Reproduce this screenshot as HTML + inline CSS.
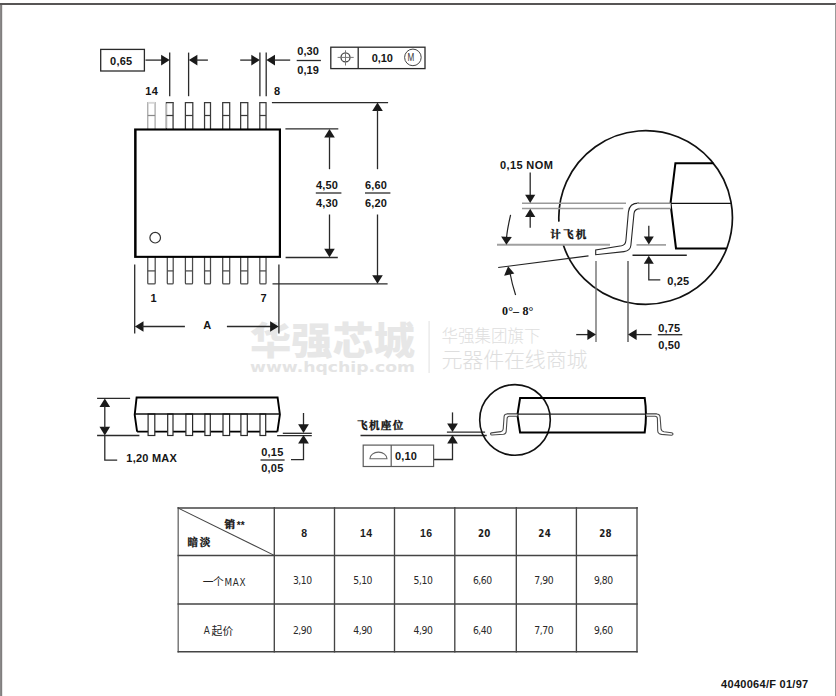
<!DOCTYPE html>
<html lang="zh">
<head>
<meta charset="utf-8">
<title>TSSOP package outline 4040064/F</title>
<style>
html,body{margin:0;padding:0;background:#fff;}
body{width:836px;height:696px;overflow:hidden;}
svg{display:block;}
text{font-family:"Liberation Sans","Noto Sans CJK SC",sans-serif;fill:#151515;}
.b{font-size:11px;font-weight:bold;}
.th{font-size:10.5px;font-weight:bold;fill:#1c1c1c;}
.th2{font-family:"DejaVu Sans Condensed","DejaVu Sans","Liberation Sans",sans-serif;font-size:9.7px;font-weight:bold;fill:#1c1c1c;}
.td{font-family:"DejaVu Sans Condensed","DejaVu Sans","Liberation Sans",sans-serif;font-size:10.3px;font-weight:normal;fill:#2a2a2a;}
.trow{font-size:10.8px;font-weight:normal;fill:#222;font-family:"Liberation Sans","Noto Sans CJK SC",sans-serif;}
.ast{font-size:10px;font-weight:bold;}
.tmax{font-family:"DejaVu Sans Condensed","DejaVu Sans","Liberation Sans",sans-serif;font-size:9.8px;font-weight:normal;fill:#2a2a2a;}
.r9{font-size:10.4px;font-weight:normal;fill:#333;}
.cjk{font-family:"Liberation Serif","Noto Serif CJK SC",serif;font-weight:bold;font-size:10.6px;fill:#111;stroke:#111;stroke-width:0.35px;}
.ser{font-family:"Liberation Serif",serif;font-weight:bold;font-size:12px;fill:#111;}
.wm1{font-family:"Liberation Sans","Noto Sans CJK SC",sans-serif;font-weight:900;font-size:37.8px;fill:#e7e7e7;}
.wm2{font-family:"DejaVu Sans","Liberation Sans",sans-serif;font-weight:bold;font-size:14.8px;fill:#e4e4e4;}
.wm3{font-family:"Liberation Sans","Noto Sans CJK SC",sans-serif;font-weight:300;font-size:16.5px;fill:#dedede;}
.wm4{font-family:"Liberation Sans","Noto Sans CJK SC",sans-serif;font-weight:300;font-size:21px;fill:#dedede;}
</style>
</head>
<body>
<svg width="836" height="696" viewBox="0 0 836 696">
<g fill="#e6e6e6">
<text x="250" y="353.6" class="wm1" textLength="165" lengthAdjust="spacingAndGlyphs">华强芯城</text>
<text x="250" y="372.4" class="wm2" textLength="165" lengthAdjust="spacingAndGlyphs">www.hqchip.com</text>
<rect x="428.4" y="321" width="1.4" height="52" fill="#e9e9e9"/>
<text x="441.5" y="341.5" class="wm3" textLength="99" lengthAdjust="spacing">华强集团旗下</text>
<text x="441.5" y="366.5" class="wm4" textLength="146" lengthAdjust="spacing">元器件在线商城</text>
</g>
<rect x="0" y="3" width="1.3" height="693" fill="#8a8888"/>
<rect x="1.3" y="3" width="0.85" height="693" fill="#5a5858"/>
<rect x="0" y="3" width="836" height="2" fill="#575555"/>
<rect x="835" y="4" width="1" height="692" fill="#9a9a9a"/>
<rect x="100.7" y="49.4" width="43.7" height="21.6" fill="#fff" stroke="#2a2a2a" stroke-width="1.3"/>
<text x="110.1" y="64.5" class="b" textLength="22" lengthAdjust="spacing">0,65</text>
<line x1="145.5" y1="60.1" x2="163" y2="60.1" stroke="#2a2a2a" stroke-width="1.3"/>
<polygon points="169.7,60.1 161.1,54.800000000000004 161.1,65.4" fill="#1a1a1a"/>
<line x1="169.7" y1="52.6" x2="169.7" y2="96.2" stroke="#2a2a2a" stroke-width="1.3"/>
<line x1="188.6" y1="52.6" x2="188.6" y2="96.2" stroke="#2a2a2a" stroke-width="1.3"/>
<polygon points="188.8,60.1 197.4,54.800000000000004 197.4,65.4" fill="#1a1a1a"/>
<line x1="196" y1="60.1" x2="207.9" y2="60.1" stroke="#2a2a2a" stroke-width="1.3"/>
<line x1="240.2" y1="60.1" x2="252" y2="60.1" stroke="#2a2a2a" stroke-width="1.3"/>
<polygon points="259.9,60.1 251.29999999999998,54.800000000000004 251.29999999999998,65.4" fill="#1a1a1a"/>
<line x1="259.9" y1="52.6" x2="259.9" y2="96.2" stroke="#2a2a2a" stroke-width="1.3"/>
<line x1="266.2" y1="52.6" x2="266.2" y2="96.2" stroke="#2a2a2a" stroke-width="1.3"/>
<polygon points="266.4,60.1 275.0,54.800000000000004 275.0,65.4" fill="#1a1a1a"/>
<line x1="274" y1="60.1" x2="290.2" y2="60.1" stroke="#2a2a2a" stroke-width="1.3"/>
<text x="297.2" y="55.1" class="b" textLength="21.6" lengthAdjust="spacing">0,30</text>
<line x1="296.7" y1="60.5" x2="320.9" y2="60.5" stroke="#2a2a2a" stroke-width="1.3"/>
<text x="297.2" y="73.9" class="b" textLength="21.6" lengthAdjust="spacing">0,19</text>
<rect x="330.8" y="47.2" width="94.2" height="21.4" fill="#fff" stroke="#2a2a2a" stroke-width="1.3"/>
<line x1="358.2" y1="47.2" x2="358.2" y2="68.6" stroke="#2a2a2a" stroke-width="1.3"/>
<circle cx="345.5" cy="57.4" r="4.5" fill="none" stroke="#444" stroke-width="1.3"/>
<line x1="337.6" y1="57.4" x2="353.7" y2="57.4" stroke="#777" stroke-width="1"/>
<line x1="345.5" y1="50.3" x2="345.5" y2="65.5" stroke="#777" stroke-width="1"/>
<text x="371.7" y="61.9" class="b" textLength="21.2" lengthAdjust="spacing">0,10</text>
<circle cx="412.9" cy="57.4" r="8.3" fill="none" stroke="#444" stroke-width="1"/>
<text class="r9" transform="translate(407.5 61.1) scale(0.78 1)">M</text>
<text x="145.3" y="94.9" class="b" textLength="12.6" lengthAdjust="spacing">14</text>
<text x="274" y="94.9" class="b">8</text>
<text x="150.6" y="301.9" class="b">1</text>
<text x="260.6" y="301.9" class="b">7</text>
<path d="M147.75 129 L147.75 102.7 L155.1 102.7 L155.1 129" fill="#fff" stroke="#a6a6a6" stroke-width="1.25"/>
<line x1="147.75" y1="102.7" x2="155.1" y2="102.7" stroke="#d8d8d8" stroke-width="1.6"/>
<line x1="147.75" y1="115.5" x2="155.1" y2="115.5" stroke="#8a8a8a" stroke-width="1.25"/>
<path d="M166.4 129 L166.4 102.7 L173.2 102.7 L173.2 129" fill="#fff" stroke="#3a3a3a" stroke-width="1.25"/>
<line x1="166.4" y1="103.4" x2="166.4" y2="128.4" stroke="#b4b4b4" stroke-width="1.6"/>
<line x1="173.2" y1="103.4" x2="173.2" y2="128.4" stroke="#777" stroke-width="1.4"/>
<line x1="166.4" y1="115.5" x2="173.2" y2="115.5" stroke="#3a3a3a" stroke-width="1.25"/>
<path d="M185.4 129 L185.4 102.7 L192.8 102.7 L192.8 129" fill="#fff" stroke="#3a3a3a" stroke-width="1.25"/>
<line x1="185.4" y1="115.5" x2="192.8" y2="115.5" stroke="#3a3a3a" stroke-width="1.25"/>
<path d="M204.55 129 L204.55 102.7 L210.5 102.7 L210.5 129" fill="#fff" stroke="#3a3a3a" stroke-width="1.25"/>
<line x1="204.55" y1="115.5" x2="210.5" y2="115.5" stroke="#3a3a3a" stroke-width="1.25"/>
<path d="M222.7 129 L222.7 102.7 L229.7 102.7 L229.7 129" fill="#fff" stroke="#3a3a3a" stroke-width="1.25"/>
<line x1="222.7" y1="115.5" x2="229.7" y2="115.5" stroke="#3a3a3a" stroke-width="1.25"/>
<path d="M240.65 129 L240.65 102.7 L247.8 102.7 L247.8 129" fill="#fff" stroke="#3a3a3a" stroke-width="1.25"/>
<line x1="240.65" y1="115.5" x2="247.8" y2="115.5" stroke="#3a3a3a" stroke-width="1.25"/>
<path d="M259.8 129 L259.8 102.7 L266.05 102.7 L266.05 129" fill="#fff" stroke="#3a3a3a" stroke-width="1.25"/>
<line x1="259.8" y1="115.5" x2="266.05" y2="115.5" stroke="#3a3a3a" stroke-width="1.25"/>
<path d="M147.75 257 L147.75 283 Q147.75 283.9 148.65 283.9 L154.29999999999998 283.9 Q155.2 283.9 155.2 283 L155.2 257" fill="#fff" stroke="#4a4a4a" stroke-width="1.25"/>
<line x1="147.75" y1="270.9" x2="155.2" y2="270.9" stroke="#4a4a4a" stroke-width="1.25"/>
<path d="M167.3 257 L167.3 283 Q167.3 283.9 168.20000000000002 283.9 L172.29999999999998 283.9 Q173.2 283.9 173.2 283 L173.2 257" fill="#fff" stroke="#4a4a4a" stroke-width="1.25"/>
<line x1="167.3" y1="270.9" x2="173.2" y2="270.9" stroke="#4a4a4a" stroke-width="1.25"/>
<path d="M185.4 257 L185.4 283 Q185.4 283.9 186.3 283.9 L191.65 283.9 Q192.55 283.9 192.55 283 L192.55 257" fill="#fff" stroke="#4a4a4a" stroke-width="1.25"/>
<line x1="185.4" y1="270.9" x2="192.55" y2="270.9" stroke="#4a4a4a" stroke-width="1.25"/>
<path d="M204.55 257 L204.55 283 Q204.55 283.9 205.45000000000002 283.9 L209.6 283.9 Q210.5 283.9 210.5 283 L210.5 257" fill="#fff" stroke="#4a4a4a" stroke-width="1.25"/>
<line x1="204.55" y1="270.9" x2="210.5" y2="270.9" stroke="#4a4a4a" stroke-width="1.25"/>
<path d="M222.7 257 L222.7 283 Q222.7 283.9 223.6 283.9 L228.79999999999998 283.9 Q229.7 283.9 229.7 283 L229.7 257" fill="#fff" stroke="#4a4a4a" stroke-width="1.25"/>
<line x1="222.7" y1="270.9" x2="229.7" y2="270.9" stroke="#4a4a4a" stroke-width="1.25"/>
<path d="M240.65 257 L240.65 283 Q240.65 283.9 241.55 283.9 L246.9 283.9 Q247.8 283.9 247.8 283 L247.8 257" fill="#fff" stroke="#4a4a4a" stroke-width="1.25"/>
<line x1="240.65" y1="270.9" x2="247.8" y2="270.9" stroke="#4a4a4a" stroke-width="1.25"/>
<path d="M259.8 257 L259.8 283 Q259.8 283.9 260.7 283.9 L265.15000000000003 283.9 Q266.05 283.9 266.05 283 L266.05 257" fill="#fff" stroke="#4a4a4a" stroke-width="1.25"/>
<line x1="259.8" y1="270.9" x2="266.05" y2="270.9" stroke="#4a4a4a" stroke-width="1.25"/>
<rect x="134.1" y="128.45" width="146.9" height="129.45" fill="#000"/>
<rect x="136.6" y="130.55" width="142.2" height="125.25" fill="#fff"/>
<circle cx="155.2" cy="237.7" r="5.3" fill="none" stroke="#333" stroke-width="1.2"/>
<line x1="271.9" y1="102.6" x2="388.1" y2="102.6" stroke="#2a2a2a" stroke-width="1.3"/>
<line x1="272.5" y1="283.9" x2="387.6" y2="283.9" stroke="#2a2a2a" stroke-width="1.3"/>
<line x1="285.4" y1="128.9" x2="338.3" y2="128.9" stroke="#2a2a2a" stroke-width="1.3"/>
<line x1="285.6" y1="257.5" x2="337.8" y2="257.5" stroke="#2a2a2a" stroke-width="1.3"/>
<polygon points="329.5,129 324.2,137.6 334.8,137.6" fill="#1a1a1a"/>
<line x1="329.5" y1="136" x2="329.5" y2="169.2" stroke="#2a2a2a" stroke-width="1.3"/>
<line x1="329.5" y1="214.5" x2="329.5" y2="250" stroke="#2a2a2a" stroke-width="1.3"/>
<polygon points="329.5,257.3 324.2,248.70000000000002 334.8,248.70000000000002" fill="#1a1a1a"/>
<polygon points="377.5,102.5 372.2,111.1 382.8,111.1" fill="#1a1a1a"/>
<line x1="377.5" y1="110" x2="377.5" y2="169.2" stroke="#2a2a2a" stroke-width="1.3"/>
<line x1="377.5" y1="214.5" x2="377.5" y2="276" stroke="#2a2a2a" stroke-width="1.3"/>
<polygon points="377.5,283.8 372.2,275.2 382.8,275.2" fill="#1a1a1a"/>
<text x="316.1" y="188.8" class="b" textLength="21.8" lengthAdjust="spacing">4,50</text>
<line x1="315.8" y1="193" x2="341.4" y2="193" stroke="#2a2a2a" stroke-width="1.3"/>
<text x="316.1" y="207" class="b" textLength="21.8" lengthAdjust="spacing">4,30</text>
<text x="365.1" y="188.8" class="b" textLength="21.8" lengthAdjust="spacing">6,60</text>
<line x1="365" y1="193" x2="390.4" y2="193" stroke="#2a2a2a" stroke-width="1.3"/>
<text x="365.1" y="207" class="b" textLength="21.8" lengthAdjust="spacing">6,20</text>
<line x1="134.7" y1="264.5" x2="134.7" y2="333.5" stroke="#2a2a2a" stroke-width="1.3"/>
<line x1="278.9" y1="264.5" x2="278.9" y2="333.5" stroke="#2a2a2a" stroke-width="1.3"/>
<polygon points="134.9,326.5 143.5,321.2 143.5,331.8" fill="#1a1a1a"/>
<line x1="142" y1="326.5" x2="184.9" y2="326.5" stroke="#2a2a2a" stroke-width="1.3"/>
<line x1="226.9" y1="326.5" x2="271" y2="326.5" stroke="#2a2a2a" stroke-width="1.3"/>
<polygon points="278.7,326.5 270.09999999999997,321.2 270.09999999999997,331.8" fill="#1a1a1a"/>
<text x="203.3" y="329" class="b">A</text>
<path d="M558.9 221.6 A86.8 86.8 0 1 1 563.3 245.1" fill="none" stroke="#111" stroke-width="1.7"/>
<line x1="522" y1="203.3" x2="626" y2="203.3" stroke="#9a9a9a" stroke-width="1.5"/>
<line x1="522" y1="208.5" x2="623.3" y2="208.5" stroke="#9a9a9a" stroke-width="1.5"/>
<line x1="497" y1="244.8" x2="610" y2="244.8" stroke="#a0a0a0" stroke-width="2"/>
<line x1="636.5" y1="244.9" x2="666" y2="244.9" stroke="#999" stroke-width="1.6"/>
<line x1="632.5" y1="255.3" x2="686.8" y2="255.3" stroke="#222" stroke-width="1.4"/>
<line x1="498.2" y1="267.5" x2="588.5" y2="255.9" stroke="#222" stroke-width="1.2"/>
<line x1="596" y1="261" x2="596" y2="342" stroke="#707070" stroke-width="1.4"/>
<line x1="628" y1="261" x2="628" y2="342" stroke="#555" stroke-width="1.4"/>
<path d="M713.4 163.2 L675.4 163.2 L670.5 203.4 L676 248.4 L726.5 248.4" fill="none" stroke="#000" stroke-width="2.05" stroke-linejoin="miter"/>
<line x1="670.5" y1="203.4" x2="731.2" y2="203.4" stroke="#111" stroke-width="1.35"/>
<path d="M670.6 202.9 L637.5 202.9 Q629.2 202.9 628.4 212 L625.9 240.5 Q625.5 245 621.5 245.8 L595.7 250 L595.7 254.7 L624 251.6 Q630.3 250.8 630.9 245.3 L634 213.5 Q634.5 208.6 638.5 208.6 L670.9 208.6 Z" fill="#fff" stroke="none"/>
<path d="M639 203.1 Q629.4 202.9 628.4 212 L625.9 240.5 Q625.5 245 621.5 245.8 L595.7 250 L595.7 254.7 L624 251.6 Q630.3 250.8 630.9 245.3 L634 213.5 Q634.5 208.7 640 208.6" fill="none" stroke="#262626" stroke-width="1.1"/>
<line x1="637" y1="203.2" x2="670.6" y2="203.2" stroke="#8e8e8e" stroke-width="1.5"/>
<line x1="638.5" y1="208.6" x2="671" y2="208.6" stroke="#8e8e8e" stroke-width="1.5"/>
<text x="500" y="168.8" class="b" textLength="52.8" lengthAdjust="spacing">0,15 NOM</text>
<line x1="530.2" y1="172.6" x2="530.2" y2="196" stroke="#2a2a2a" stroke-width="1.3"/>
<polygon points="530.2,203 525.1,194.8 535.3000000000001,194.8" fill="#1a1a1a"/>
<polygon points="530.2,208.7 525.1,216.89999999999998 535.3000000000001,216.89999999999998" fill="#1a1a1a"/>
<line x1="530.2" y1="216" x2="530.2" y2="227.8" stroke="#2a2a2a" stroke-width="1.3"/>
<path d="M510.6 214.9 Q507.3 229 506.5 238" fill="none" stroke="#222" stroke-width="1.2"/>
<polygon points="506.4,244.7 501.1,236.4 511.8,237" fill="#1a1a1a"/>
<polygon points="508.1,266.3 504.1,275.8 514.3,273.5" fill="#1a1a1a"/>
<path d="M510 273 Q512 284 515.6 295" fill="none" stroke="#222" stroke-width="1.2"/>
<text x="550.3" y="237.8" class="cjk" textLength="36" lengthAdjust="spacing">计飞机</text>
<text x="502" y="314.9" class="ser" textLength="31.4" lengthAdjust="spacing">0°– 8°</text>
<line x1="648.8" y1="225.8" x2="648.8" y2="238" stroke="#2a2a2a" stroke-width="1.3"/>
<polygon points="648.8,244.6 643.8,236.6 653.8,236.6" fill="#1a1a1a"/>
<polygon points="648.8,255.7 643.8,263.7 653.8,263.7" fill="#1a1a1a"/>
<path d="M648.8 263 L648.8 279.8 L660.3 279.8" fill="none" stroke="#2a2a2a" stroke-width="1.3"/>
<text x="667.3" y="284.8" class="b" textLength="21.9" lengthAdjust="spacing">0,25</text>
<line x1="576.2" y1="334.6" x2="588.5" y2="334.6" stroke="#2a2a2a" stroke-width="1.3"/>
<polygon points="596,334.6 587.4,329.3 587.4,339.90000000000003" fill="#1a1a1a"/>
<polygon points="628,334.6 636.6,329.3 636.6,339.90000000000003" fill="#1a1a1a"/>
<line x1="636" y1="334.6" x2="651.6" y2="334.6" stroke="#2a2a2a" stroke-width="1.3"/>
<text x="658.2" y="332" class="b" textLength="21.8" lengthAdjust="spacing">0,75</text>
<line x1="657.8" y1="334.7" x2="682.3" y2="334.7" stroke="#2a2a2a" stroke-width="1.3"/>
<text x="658.2" y="349.1" class="b" textLength="21.8" lengthAdjust="spacing">0,50</text>
<line x1="97.1" y1="398.3" x2="130.1" y2="398.3" stroke="#2a2a2a" stroke-width="1.3"/>
<line x1="97.1" y1="435.5" x2="139.4" y2="435.5" stroke="#2a2a2a" stroke-width="1.3"/>
<polygon points="104.8,398.5 99.5,407.1 110.1,407.1" fill="#1a1a1a"/>
<polygon points="104.8,435.4 99.5,426.79999999999995 110.1,426.79999999999995" fill="#1a1a1a"/>
<path d="M104.8 406 L104.8 428 M104.8 435.5 L104.8 460.1 L117.2 460.1" fill="none" stroke="#2a2a2a" stroke-width="1.3"/>
<text x="126.3" y="462" class="b" textLength="50.6" lengthAdjust="spacing">1,20 MAX</text>
<path d="M137.1 431.6 L277.4 431.6" stroke="#000" stroke-width="1.95" fill="none"/>
<rect x="148.1" y="414" width="6.70" height="21.5" fill="#fff" stroke="#2a2a2a" stroke-width="1.2"/>
<rect x="167.7" y="414" width="5.30" height="21.5" fill="#fff" stroke="#2a2a2a" stroke-width="1.2"/>
<rect x="185.9" y="414" width="6.70" height="21.5" fill="#fff" stroke="#2a2a2a" stroke-width="1.2"/>
<rect x="204.9" y="414" width="5.40" height="21.5" fill="#fff" stroke="#2a2a2a" stroke-width="1.2"/>
<rect x="223.0" y="414" width="6.60" height="21.5" fill="#fff" stroke="#2a2a2a" stroke-width="1.2"/>
<rect x="240.9" y="414" width="6.40" height="21.5" fill="#fff" stroke="#2a2a2a" stroke-width="1.2"/>
<rect x="260.0" y="414" width="5.70" height="21.5" fill="#fff" stroke="#2a2a2a" stroke-width="1.2"/>
<path d="M137.1 431.6 L134.7 414.8 L136.6 397.5 L277.6 397.5 L279.9 414.6 L277.4 431.6" fill="none" stroke="#000" stroke-width="1.9"/>
<line x1="134.7" y1="414" x2="279.9" y2="414" stroke="#111" stroke-width="1.3"/>
<line x1="282.8" y1="433.3" x2="311.8" y2="433.3" stroke="#2a2a2a" stroke-width="1.3"/>
<line x1="277.1" y1="435.6" x2="311.8" y2="435.6" stroke="#2a2a2a" stroke-width="1.3"/>
<line x1="303.5" y1="413" x2="303.5" y2="426" stroke="#2a2a2a" stroke-width="1.3"/>
<polygon points="303.5,432.9 298.1,424.29999999999995 308.9,424.29999999999995" fill="#1a1a1a"/>
<polygon points="303.5,435.1 298.1,443.5 308.9,443.5" fill="#1a1a1a"/>
<path d="M303.5 443 L303.5 459.7 L291 459.7" fill="none" stroke="#2a2a2a" stroke-width="1.3"/>
<text x="261.2" y="456.1" class="b" textLength="22.1" lengthAdjust="spacing">0,15</text>
<line x1="260.5" y1="460" x2="284.6" y2="460" stroke="#2a2a2a" stroke-width="1.3"/>
<text x="261.2" y="471.6" class="b" textLength="22.1" lengthAdjust="spacing">0,05</text>
<text x="357.1" y="429.2" class="cjk" textLength="46.2" lengthAdjust="spacing">飞机座位</text>
<line x1="360.5" y1="435.5" x2="486.7" y2="435.5" stroke="#2a2a2a" stroke-width="1.3"/>
<line x1="446.9" y1="432.1" x2="485.1" y2="432.1" stroke="#2a2a2a" stroke-width="1.4"/>
<line x1="452.5" y1="412.4" x2="452.5" y2="425" stroke="#2a2a2a" stroke-width="1.3"/>
<polygon points="452.5,431.9 447.1,423.4 457.9,423.4" fill="#1a1a1a"/>
<polygon points="452.5,434.9 447.2,443.4 457.8,443.4" fill="#1a1a1a"/>
<path d="M452.5 443 L452.5 459.5 L433.6 459.5" fill="none" stroke="#2a2a2a" stroke-width="1.3"/>
<rect x="363.2" y="445.1" width="70.4" height="21.4" fill="#fff" stroke="#5a5a5a" stroke-width="1.2"/>
<line x1="391.2" y1="445.1" x2="391.2" y2="466.5" stroke="#5a5a5a" stroke-width="1.2"/>
<path d="M369.9 458.8 A8.55 6.7 0 0 1 387 458.8 Z" fill="none" stroke="#666" stroke-width="1.1"/>
<text x="395.1" y="459.5" class="b" textLength="21.8" lengthAdjust="spacing">0,10</text>
<circle cx="515" cy="419.9" r="35.3" fill="none" stroke="#111" stroke-width="1.6"/>
<path d="M520.1 397.9 L644.7 397.9 Q647.2 414.5 644.7 432.5 L520.1 432.5 L517.4 415 Z" fill="none" stroke="#000" stroke-width="2"/>
<line x1="506.8" y1="414" x2="656.8" y2="414" stroke="#222" stroke-width="1.25"/>
<path d="M517.3 414 L507 414 Q504.3 414 504.1 416.5 L503.2 429 Q503 431.3 500.8 431.6 L491.5 432.9 Q490.3 433.2 490.6 434.2 Q490.9 435.1 492 435 L503.5 434.3 Q506 434 506.2 431.5 L507.1 418.5 Q507.3 416.2 509.5 416.2 L517.3 416.2" fill="#fff" stroke="#4a4a4a" stroke-width="1.1"/>
<path d="M646.5 414 L656.5 414 Q659.8 414 660.1 417 L661 428.5 Q661.3 431.3 664 431.8 L671.5 432.8 Q673.2 433.1 673 434.2 Q672.8 435.3 671.3 435.2 L661.5 434.4 Q657.9 434 657.7 430.8 L657.4 418.5 Q657.3 416.2 655 416.2 L646.5 416.2" fill="#fff" stroke="#4a4a4a" stroke-width="1.1"/>
<line x1="178.2" y1="507.09999999999997" x2="178.2" y2="652.5" stroke="#6c6c6c" stroke-width="1.35"/>
<line x1="274.3" y1="507.09999999999997" x2="274.3" y2="652.5" stroke="#444" stroke-width="1.35"/>
<line x1="334.5" y1="507.09999999999997" x2="334.5" y2="652.5" stroke="#444" stroke-width="1.35"/>
<line x1="394.5" y1="507.09999999999997" x2="394.5" y2="652.5" stroke="#444" stroke-width="1.35"/>
<line x1="454.8" y1="507.09999999999997" x2="454.8" y2="652.5" stroke="#444" stroke-width="1.35"/>
<line x1="516.3" y1="507.09999999999997" x2="516.3" y2="652.5" stroke="#444" stroke-width="1.35"/>
<line x1="576.4" y1="507.09999999999997" x2="576.4" y2="652.5" stroke="#444" stroke-width="1.35"/>
<line x1="637" y1="507.09999999999997" x2="637" y2="652.5" stroke="#444" stroke-width="1.35"/>
<line x1="177.5" y1="508.0" x2="637.7" y2="508.0" stroke="#444" stroke-width="1.5"/>
<line x1="177.5" y1="555.5" x2="637.7" y2="555.5" stroke="#444" stroke-width="1.5"/>
<line x1="177.5" y1="604.0" x2="637.7" y2="604.0" stroke="#444" stroke-width="1.5"/>
<line x1="177.5" y1="651.8000000000001" x2="637.7" y2="651.8000000000001" stroke="#444" stroke-width="1.5"/>
<line x1="178.7" y1="508.4" x2="274.3" y2="555.4" stroke="#444" stroke-width="1.05"/>
<text x="224.4" y="528.4" class="cjk">销</text>
<text x="236.7" y="529.2" class="ast" textLength="8" lengthAdjust="spacing">**</text>
<text x="187.4" y="546.4" class="cjk" textLength="23" lengthAdjust="spacing">暗淡</text>
<text x="202.7" y="585.6" class="trow" textLength="21" lengthAdjust="spacing">一个</text>
<text x="224.5" y="585.6" class="tmax" textLength="21" lengthAdjust="spacing">MAX</text>
<text x="203.8" y="634.4" class="tmax">A</text>
<text x="211.6" y="634.6" class="trow" textLength="21.6" lengthAdjust="spacing">起价</text>
<text x="301.3" y="536.8" class="th">8</text>
<text x="292.9" y="583.8" class="td" textLength="19.3" lengthAdjust="spacing">3,10</text>
<text x="292.9" y="633.8" class="td" textLength="19.3" lengthAdjust="spacing">2,90</text>
<text x="359.9" y="536.8" class="th" textLength="12.2" lengthAdjust="spacing">14</text>
<text x="353.2" y="583.8" class="td" textLength="19.3" lengthAdjust="spacing">5,10</text>
<text x="353.2" y="633.8" class="td" textLength="19.3" lengthAdjust="spacing">4,90</text>
<text x="419.9" y="536.8" class="th" textLength="12.2" lengthAdjust="spacing">16</text>
<text x="413.5" y="583.8" class="td" textLength="19.3" lengthAdjust="spacing">5,10</text>
<text x="413.5" y="633.8" class="td" textLength="19.3" lengthAdjust="spacing">4,90</text>
<text x="477.9" y="536.8" class="th2" textLength="12.5" lengthAdjust="spacing">20</text>
<text x="472.9" y="583.8" class="td" textLength="19.3" lengthAdjust="spacing">6,60</text>
<text x="472.9" y="633.8" class="td" textLength="19.3" lengthAdjust="spacing">6,40</text>
<text x="538.3" y="536.8" class="th2" textLength="12.5" lengthAdjust="spacing">24</text>
<text x="534.3" y="583.8" class="td" textLength="19.3" lengthAdjust="spacing">7,90</text>
<text x="534.3" y="633.8" class="td" textLength="19.3" lengthAdjust="spacing">7,70</text>
<text x="599.2" y="536.8" class="th2" textLength="12.5" lengthAdjust="spacing">28</text>
<text x="593.9" y="583.8" class="td" textLength="19.3" lengthAdjust="spacing">9,80</text>
<text x="593.9" y="633.8" class="td" textLength="19.3" lengthAdjust="spacing">9,60</text>
<text x="721.1" y="687.7" class="b" textLength="87.1" lengthAdjust="spacing">4040064/F 01/97</text>
</svg>
</body>
</html>
